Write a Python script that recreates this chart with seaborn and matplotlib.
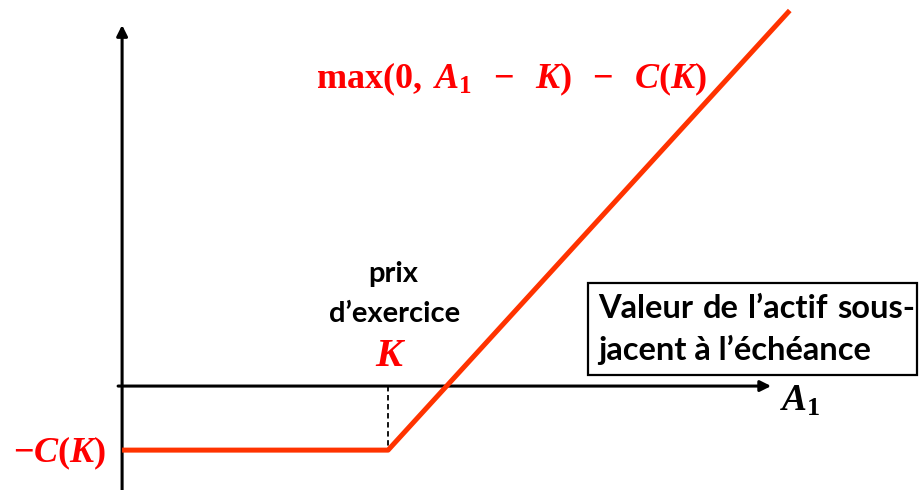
import numpy as np
import pandas as pd
import matplotlib
matplotlib.use('Agg')
import matplotlib.pyplot as plt
import seaborn as sns
from matplotlib.patches import Rectangle

# Données du profil de gain (call acheté)
strike = 10.0
prime = 2.2
a1 = [0.0, 10.0, 25.1]
gain = [-2.2, -2.2, 12.9]
mots_ligne1 = ['Valeur', 'de', 'l\u2019actif', 'sous-']
ligne2 = 'jacent à l\u2019échéance'

sns.set_theme(style='white')
plt.rcParams['font.family'] = ['Lato', 'DejaVu Sans']
plt.rcParams['mathtext.fontset'] = 'custom'
plt.rcParams['mathtext.rm'] = 'Liberation Serif:bold'
plt.rcParams['mathtext.it'] = 'Liberation Serif:bold:italic'
plt.rcParams['mathtext.bf'] = 'Liberation Serif:bold'

W, H = 919, 490
fig = plt.figure(figsize=(W / 100, H / 100), dpi=100)
ax = fig.add_axes([0, 0, 1, 1])
ax.set_xlim(-4.59, 29.96)
ax.set_ylim(-3.57, 13.26)
ax.axis('off')

# axes avec flèches
arrow = dict(arrowstyle='-|>', lw=2.2, color='black', mutation_scale=16, shrinkA=0, shrinkB=0)
ax.annotate('', xy=(24.4, 0), xytext=(-0.15, 0), arrowprops=arrow, zorder=1)
ax.annotate('', xy=(0, 12.4), xytext=(0, -3.6), arrowprops=arrow, zorder=1)

# pointillé au prix d'exercice
ax.plot([strike, strike], [0, -prime], ls=(0, (3, 2)), color='black', lw=1.3, zorder=1)

# profil de gain
df = pd.DataFrame({'A1': a1, 'gain': gain})
sns.lineplot(data=df, x='A1', y='gain', color='#ff3300', lw=3.6, ax=ax,
             solid_capstyle='butt', zorder=3)


def px(x, y):
    return x / W, 1 - y / H


red = '#ff0000'
fig.text(*px(512, 88), r'$\mathrm{max}(0,\;A_1\;\;-\;\;K)\;\;-\;\;C(K)$', color=red,
         fontsize=26, ha='center', va='baseline')
fig.text(*px(60, 453), r'$-C(K)$', color=red, fontsize=26, ha='center', va='center')
fig.text(*px(391, 354), r'$K$', color=red, fontsize=29, ha='center', va='center')
fig.text(*px(800, 400), r'$A_1$', color='black', fontsize=27, ha='center', va='center')
fig.text(*px(393, 282), 'prix', color='black', fontsize=21,
         fontweight='bold', ha='center', va='baseline')
fig.text(*px(395, 322), 'd\u2019exercice', color='black', fontsize=21,
         fontweight='bold', ha='center', va='baseline')

fig.add_artist(Rectangle(px(588, 375), 329 / W, 92 / H, transform=fig.transFigure,
                         fill=False, edgecolor='black', lw=1.6))

# première ligne justifiée entre x=598 et x=915
taille = 23.5
renderer = fig.canvas.get_renderer()
textes = [fig.text(*px(598, 318), m, color='black', fontsize=taille,
                   fontweight='bold', ha='left', va='baseline') for m in mots_ligne1]
largeurs = [t.get_window_extent(renderer).width for t in textes]
espace = (915 - 598 - sum(largeurs)) / (len(textes) - 1)
x = 598
for t, w in zip(textes, largeurs):
    t.set_position(px(x, 318))
    x += w + espace
fig.text(*px(598, 360), ligne2, color='black', fontsize=taille,
         fontweight='bold', ha='left', va='baseline')

fig.savefig('out.png', dpi=100)
